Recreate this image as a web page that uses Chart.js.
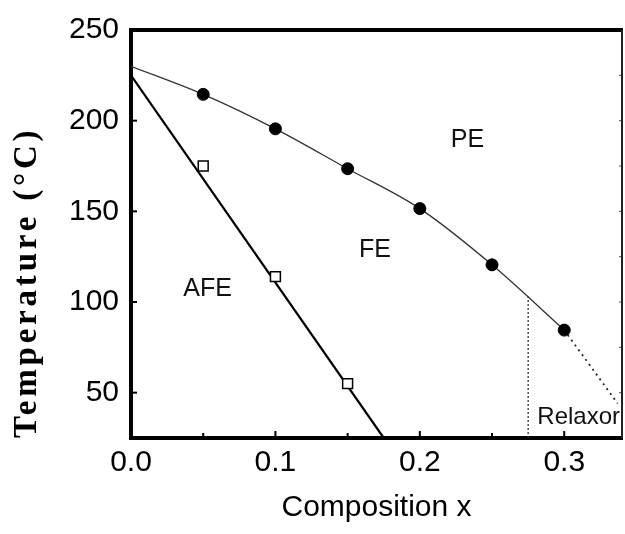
<!DOCTYPE html>
<html><head><meta charset="utf-8">
<script src="https://cdn.jsdelivr.net/npm/chart.js@4.4.1/dist/chart.umd.min.js"></script>
<style>html,body{margin:0;padding:0;background:#fff}#wrap{width:625px;height:534px}</style>
</head><body><div id="wrap"><canvas id="c" width="625" height="534"></canvas></div>
<script>
// ---- data ----
const peX = [0.05, 0.10, 0.15, 0.20, 0.25, 0.30];
const peT = [214.5, 195.5, 173.5, 151.5, 120.5, 84.5];
const peFitX = [0, 0.05, 0.10, 0.15, 0.20, 0.25, 0.30];
const peFitT = [230, 214.5, 195.5, 173.5, 151.5, 120.5, 84.5];
const peExtX = [0.30, 0.337];
const peExtT = [84.5, 44];
const relaxorX = [0.275, 0.275];
const relaxorT = [25, 104];
const afeX = [0.05, 0.10, 0.15];
const afeT = [175, 114, 55];
const afeFitX = [0, 0.175];
const afeFitT = [225, 25];
const xTicks = [0, 0.1, 0.2, 0.3];
const xMinorTicks = [0.05, 0.15, 0.25];
const yTicks = [50, 100, 150, 200, 250];
const yMinorTicks = [75, 125, 175, 225];
const regionLabels = ['PE', 'FE', 'AFE', 'Relaxor'];
const regionX = [0.233, 0.169, 0.053, 0.31];
const regionT = [189.5, 128.5, 107, 36.5];

const SANS = '"Liberation Sans", Arial, sans-serif';
const SERIF = '"Liberation Serif", "Times New Roman", serif';
const pts = (xs, ys) => xs.map((x, i) => ({x: x, y: ys[i]}));

const framePlugin = {
  id: 'frame',
  afterLayout(chart) {
    const s = chart.scales.y;
    if (s && !s._lsWrapped) {
      const orig = s.drawTitle;
      s.drawTitle = function () {
        const c = this.ctx; c.save();
        try { c.letterSpacing = '3.8px'; } catch (e) {}
        orig.apply(this, arguments);
        c.restore();
      };
      s._lsWrapped = true;
    }
  },
  afterDraw(chart) {
    const ctx = chart.ctx, a = chart.chartArea, xs = chart.scales.x, ys = chart.scales.y;
    ctx.save();
    ctx.strokeStyle = '#000';
    ctx.lineWidth = 2;
    // inward x ticks
    xTicks.forEach(v => { const p = xs.getPixelForValue(v); ctx.beginPath(); ctx.moveTo(p, a.bottom); ctx.lineTo(p, a.bottom - 7); ctx.stroke(); });
    xMinorTicks.forEach(v => { const p = xs.getPixelForValue(v); ctx.beginPath(); ctx.moveTo(p, a.bottom); ctx.lineTo(p, a.bottom - 5); ctx.stroke(); });
    // inward y ticks
    yTicks.forEach(v => { const p = ys.getPixelForValue(v); ctx.beginPath(); ctx.moveTo(a.left, p); ctx.lineTo(a.left + 6, p); ctx.stroke(); });
    // right axis ticks
    ctx.lineWidth = 1;
    ctx.strokeStyle = '#555';
    yTicks.concat(yMinorTicks).forEach(v => { const p = ys.getPixelForValue(v); ctx.beginPath(); ctx.moveTo(a.right, p); ctx.lineTo(a.right - 3, p); ctx.stroke(); });
    // top and right frame
    ctx.strokeStyle = '#000';
    ctx.lineWidth = 4;
    ctx.beginPath(); ctx.moveTo(a.left - 2, a.top); ctx.lineTo(a.right + 1, a.top); ctx.stroke();
    ctx.lineWidth = 2;
    ctx.strokeStyle = '#222';
    ctx.beginPath(); ctx.moveTo(a.right, a.top); ctx.lineTo(a.right, a.bottom); ctx.stroke();
    // region labels
    ctx.fillStyle = '#111';
    ctx.textAlign = 'center';
    ctx.textBaseline = 'middle';
    regionLabels.forEach((t, i) => {
      ctx.font = (t === 'Relaxor' ? '24px ' : '25px ') + SANS;
      ctx.fillText(t, xs.getPixelForValue(regionX[i]), ys.getPixelForValue(regionT[i]));
    });
    ctx.restore();
  }
};

new Chart(document.getElementById('c'), {
  type: 'scatter',
  data: {
    datasets: [
      { label: 'PE–FE', data: pts(peX, peT), pointRadius: 6, pointHoverRadius: 6, backgroundColor: '#000', borderColor: '#000', borderWidth: 1, showLine: false },
      { label: 'AFE–FE', data: pts(afeX, afeT), pointStyle: 'rect', pointRadius: 7, pointHoverRadius: 7, backgroundColor: '#fff', borderColor: '#000', borderWidth: 1.5, showLine: false },
      { label: 'PE fit', data: pts(peFitX, peFitT), showLine: true, pointRadius: 0, borderColor: '#333', borderWidth: 1.3, cubicInterpolationMode: 'monotone' },
      { label: 'PE ext', data: pts(peExtX, peExtT), showLine: true, pointRadius: 0, borderColor: '#222', borderWidth: 1.8, borderDash: [2, 4] },
      { label: 'Relaxor', data: pts(relaxorX, relaxorT), showLine: true, pointRadius: 0, borderColor: '#222', borderWidth: 1.2, borderDash: [2, 2] },
      { label: 'AFE fit', data: pts(afeFitX, afeFitT), showLine: true, pointRadius: 0, borderColor: '#000', borderWidth: 2.2 }
    ]
  },
  options: {
    responsive: false,
    animation: false,
    devicePixelRatio: 1,
    layout: { autoPadding: false, padding: { left: 0, top: 24, right: 3, bottom: 0 } },
    plugins: { legend: { display: false }, tooltip: { enabled: false } },
    scales: {
      x: {
        type: 'linear', min: 0, max: 0.34,
        afterBuildTicks: s => { s.ticks = xTicks.map(v => ({value: v})); },
        afterFit: s => { s.height = 96; },
        grid: { display: false, drawTicks: false },
        border: { display: true, color: '#000', width: 4 },
        ticks: { padding: 7, color: '#000', font: { family: SANS, size: 30 }, callback: v => Number(v).toFixed(1) },
        title: { display: true, text: 'Composition x', color: '#000', font: { family: SANS, size: 30 }, padding: { top: 0, bottom: 8 } }
      },
      y: {
        type: 'linear', min: 25, max: 250,
        afterBuildTicks: s => { s.ticks = yTicks.map(v => ({value: v})); },
        afterFit: s => { s.width = 131; },
        grid: { display: false, drawTicks: false },
        border: { display: true, color: '#000', width: 4 },
        ticks: { padding: 12, color: '#000', font: { family: SANS, size: 30 } },
        title: { display: true, text: 'Temperature (°C)', align: 'start', color: '#000', font: { family: SERIF, size: 33, weight: 'bold' }, padding: { top: 8, bottom: 0 } }
      }
    }
  },
  plugins: [framePlugin]
});
</script>
</body></html>
